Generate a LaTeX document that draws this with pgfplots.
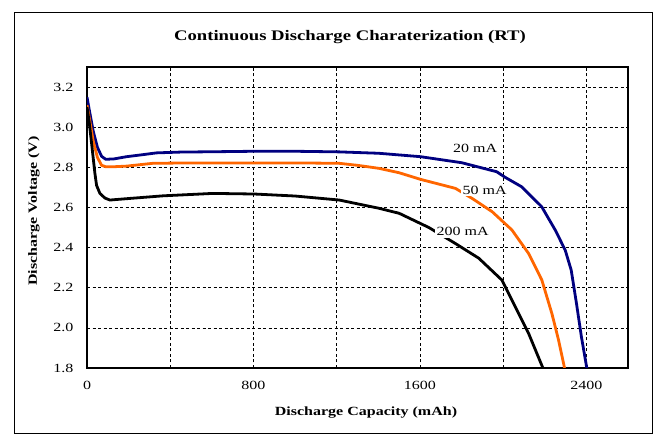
\documentclass[border=0pt]{standalone}
\usepackage{fontspec}
\setmainfont{Liberation Serif}[FakeStretch=1.28]
\usepackage{pgfplots}
\pgfplotsset{compat=1.18}
\definecolor{navyline}{RGB}{0,0,128}
\definecolor{orangeline}{RGB}{255,102,0}

\begin{document}
\begin{tikzpicture}[x=1pt,y=1pt]
\useasboundingbox (0,0) rectangle (663,446);
\fill[white] (0,0) rectangle (663,446);
\draw[line width=1pt] (14,12) rectangle (652,433);
\node[anchor=base,font=\fontsize{14.6}{17}\selectfont\bfseries] at (350,405) {Continuous Discharge Charaterization (RT)};
\node[anchor=base,font=\fontsize{12.5}{15}\selectfont\bfseries] at (366,30) {Discharge Capacity (mAh)};
\node[rotate=90,font=\fontsize{12.5}{15}\selectfont\bfseries] at (34,235) {Discharge Voltage (V)};
\begin{axis}[
  at={(87pt,78pt)}, anchor=south west, scale only axis,
  width=541pt, height=301pt,
  xmin=0, xmax=2600, ymin=1.8, ymax=3.3,
  xtick={0,800,1600,2400}, minor xtick={400,1200,2000},
  ytick={1.8,2.0,2.2,2.4,2.6,2.8,3.0,3.2},
  grid=both,
  major grid style={black, line width=0.7pt, dash pattern=on 3pt off 2.5pt},
  minor grid style={black, line width=0.7pt, dash pattern=on 3pt off 2.5pt},
  major tick length=0pt, minor tick length=0pt,
  axis line style={line width=1.8pt},
  /pgf/number format/assume math mode=true,
  xticklabel style={font=\fontsize{12.5}{15}\selectfont, yshift=-10pt, /pgf/number format/1000 sep={}},
  yticklabel style={font=\fontsize{12.5}{15}\selectfont, xshift=-10pt, /pgf/number format/.cd, fixed, fixed zerofill, precision=1},
  clip=true,
]
% 20 mA
\addplot[navyline, line width=2.8pt, line join=round] coordinates {
(0,3.15) (12,3.08) (30,2.98) (50,2.90) (70,2.855) (90,2.84) (130,2.842) (190,2.853) (260,2.862) (334,2.872) (450,2.876) (637,2.878) (800,2.88) (1000,2.88) (1212,2.877) (1403,2.87) (1603,2.853) (1801,2.823) (1969,2.778) (2010,2.75) (2089,2.703) (2185,2.604) (2250,2.488) (2298,2.388) (2327,2.288) (2352,2.124) (2376,1.956) (2402,1.80)
};
% 50 mA
\addplot[orangeline, line width=2.8pt, line join=round] coordinates {
(0,3.11) (12,3.04) (30,2.93) (50,2.85) (70,2.81) (90,2.803) (130,2.803) (190,2.806) (316,2.82) (500,2.822) (800,2.822) (1000,2.822) (1212,2.82) (1300,2.81) (1403,2.795) (1500,2.773) (1603,2.74) (1771,2.695) (1851,2.645) (1947,2.579) (2042,2.488) (2122,2.371) (2186,2.238) (2234,2.072) (2266,1.94) (2295,1.80)
};
% 200 mA
\addplot[black, line width=2.8pt, line join=round] coordinates {
(0,3.10) (10,3.03) (22,2.92) (38,2.77) (46,2.71) (62,2.67) (86,2.647) (110,2.637) (206,2.645) (366,2.658) (605,2.67) (805,2.667) (1000,2.657) (1212,2.637) (1403,2.596) (1500,2.571) (1643,2.50) (1771,2.42) (1883,2.347) (1994,2.238) (2058,2.105) (2122,1.973) (2191,1.80)
};
\node[font=\fontsize{12.5}{15}\selectfont, inner sep=2pt] at (axis cs:1865,2.895) {20 mA};
\node[font=\fontsize{12.5}{15}\selectfont, fill=white, inner sep=2pt] at (axis cs:1911,2.687) {50 mA};
\node[font=\fontsize{12.5}{15}\selectfont, fill=white, inner sep=2pt] at (axis cs:1805,2.479) {200 mA};
\end{axis}
\end{tikzpicture}
\end{document}
